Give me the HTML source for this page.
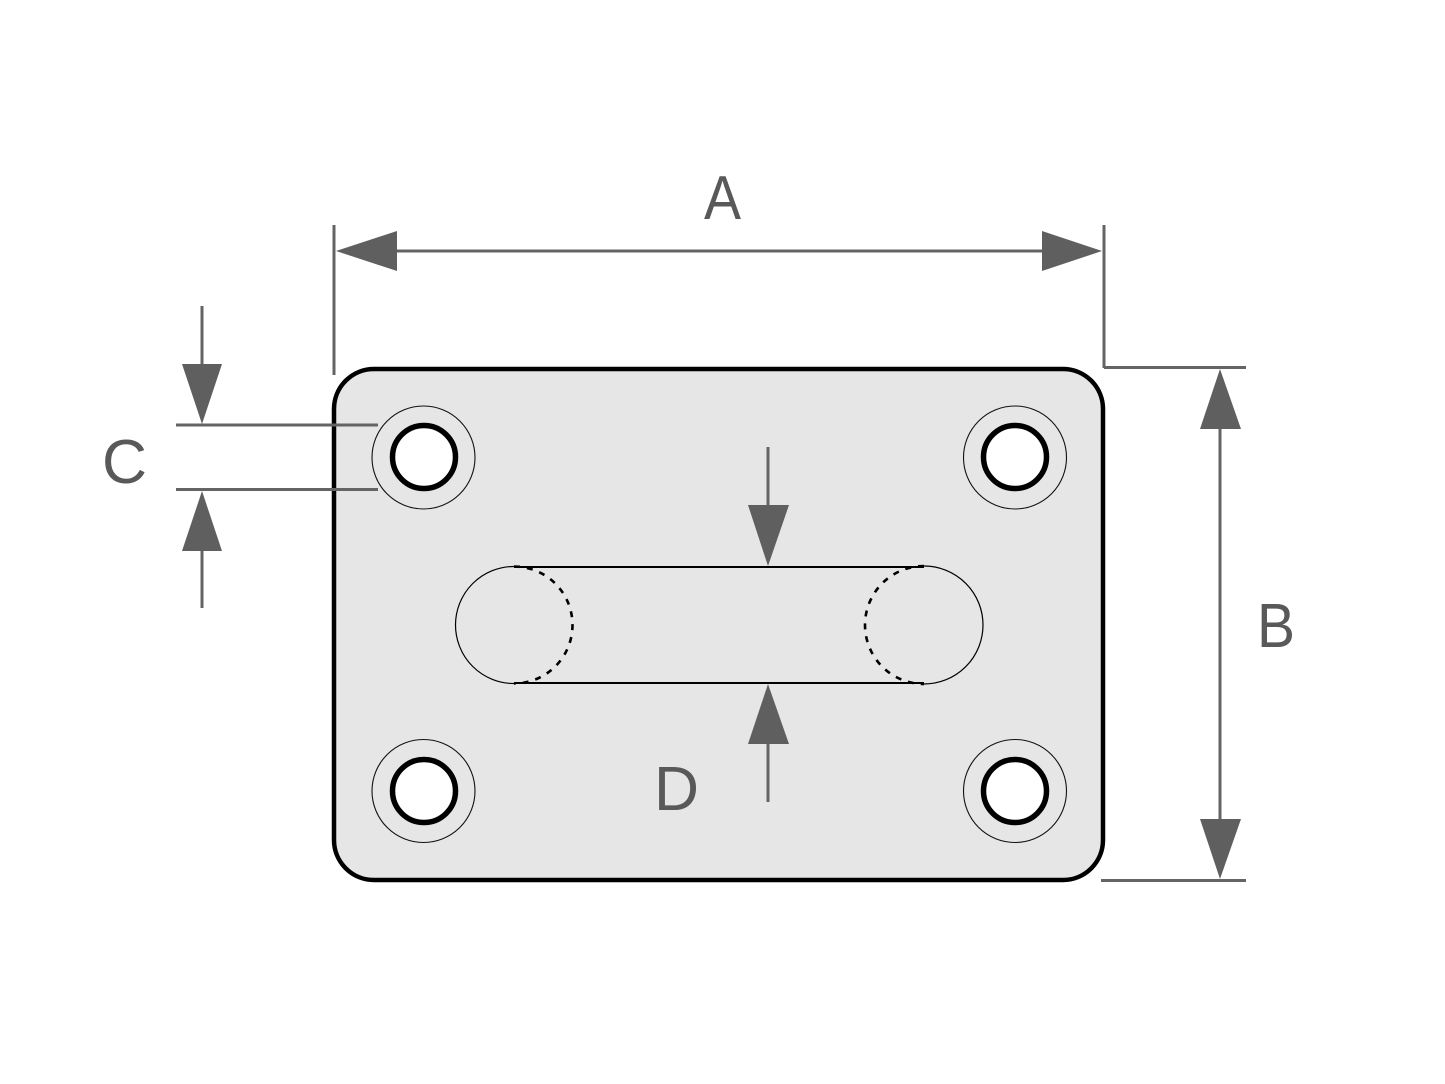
<!DOCTYPE html>
<html>
<head>
<meta charset="utf-8">
<style>
  html,body{margin:0;padding:0;background:#fff;}
  svg{display:block;}
  text{font-family:"Liberation Sans","DejaVu Sans",sans-serif;font-size:62px;fill:#595959;}
</style>
</head>
<body>
<svg width="1445" height="1084" viewBox="0 0 1445 1084" xmlns="http://www.w3.org/2000/svg">
  <rect x="0" y="0" width="1445" height="1084" fill="#fff"/>

  <!-- Plate -->
  <rect x="334" y="369" width="769" height="511" rx="40" ry="40" fill="#e6e6e6" stroke="#000" stroke-width="4.5"/>

  <!-- Holes -->
  <g fill="none" stroke="#111" stroke-width="1.1">
    <circle cx="423.5" cy="457.5" r="51.5"/>
    <circle cx="1015" cy="457.5" r="51.5"/>
    <circle cx="423.5" cy="791" r="51.5"/>
    <circle cx="1015" cy="791" r="51.5"/>
  </g>
  <g fill="#fff" stroke="#000" stroke-width="5.5">
    <circle cx="424" cy="457" r="31.5"/>
    <circle cx="1015" cy="457" r="31.5"/>
    <circle cx="424" cy="791" r="31.5"/>
    <circle cx="1015" cy="791" r="31.5"/>
  </g>

  <!-- Slot -->
  <g fill="none" stroke="#000">
    <line x1="514" y1="567" x2="924" y2="567" stroke-width="2"/>
    <line x1="514" y1="683" x2="924" y2="683" stroke-width="2"/>
    <!-- left circle: left half solid thin -->
    <path d="M514 566.5 A58.5 58.5 0 0 0 514 683.5" stroke-width="1.2"/>
    <!-- left circle: right half dashed -->
    <path d="M514 566.5 A58.5 58.5 0 0 1 514 683.5" stroke-width="2.6" stroke-dasharray="6 7"/>
    <!-- right circle: right half solid thin -->
    <path d="M924 566 A59 59 0 0 1 924 684" stroke-width="1.2"/>
    <!-- right circle: left half dashed -->
    <path d="M924 566 A59 59 0 0 0 924 684" stroke-width="2.6" stroke-dasharray="6 7"/>
  </g>

  <!-- Dimension lines -->
  <g stroke="#646464" stroke-width="3" fill="none">
    <!-- A -->
    <line x1="334" y1="225" x2="334" y2="375"/>
    <line x1="1104" y1="225" x2="1104" y2="368"/>
    <line x1="396" y1="251" x2="1042" y2="251"/>
    <!-- B -->
    <line x1="1104" y1="367.5" x2="1246" y2="367.5"/>
    <line x1="1101" y1="880.5" x2="1246" y2="880.5"/>
    <line x1="1220" y1="428" x2="1220" y2="820"/>
    <!-- C -->
    <line x1="176" y1="425" x2="378" y2="425"/>
    <line x1="176" y1="489.5" x2="378" y2="489.5"/>
    <line x1="202" y1="306" x2="202" y2="365"/>
    <line x1="202" y1="550" x2="202" y2="608"/>
    <!-- D -->
    <line x1="768" y1="447" x2="768" y2="506"/>
    <line x1="768" y1="743" x2="768" y2="802"/>
  </g>
  <g fill="#5f5f5f">
    <!-- A arrowheads -->
    <polygon points="336,251 397,231 397,271"/>
    <polygon points="1102,251 1042,231 1042,271"/>
    <!-- B arrowheads -->
    <polygon points="1220,369 1200,429 1241,429"/>
    <polygon points="1220,879 1200,819 1241,819"/>
    <!-- C arrowheads -->
    <polygon points="202,424 182,364 222,364"/>
    <polygon points="202,491 182,551 222,551"/>
    <!-- D arrowheads -->
    <polygon points="768,566 748,505 789,505"/>
    <polygon points="768,684 748,744 789,744"/>
  </g>

  <!-- Labels -->
  <text x="704" y="219" textLength="37" lengthAdjust="spacingAndGlyphs">A</text>
  <text x="1257" y="647" textLength="38" lengthAdjust="spacingAndGlyphs">B</text>
  <text x="102" y="483" textLength="45" lengthAdjust="spacingAndGlyphs">C</text>
  <text x="654" y="810" textLength="45" lengthAdjust="spacingAndGlyphs">D</text>
</svg>
</body>
</html>
